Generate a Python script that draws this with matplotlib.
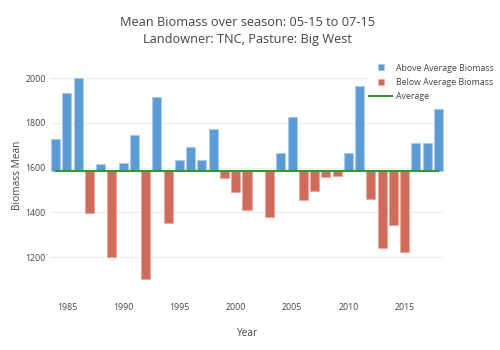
import numpy as np
import matplotlib
matplotlib.use('Agg')
import matplotlib.pyplot as plt
from matplotlib.lines import Line2D

plt.rcParams['font.family'] = ['Open Sans', 'DejaVu Sans']

#%% data
years = np.arange(1984, 2019)
biomass = np.array([1727, 1935, 2002, 1398, 1616, 1199, 1622, 1745, 1102, 1914,
                    1350, 1634, 1693, 1632, 1772, 1552, 1490, 1412, 1590, 1379,
                    1667, 1828, 1456, 1493, 1556, 1561, 1665, 1966, 1461, 1240,
                    1345, 1221, 1708, 1710, 1862])
average = biomass.mean()
yticks = [1200, 1400, 1600, 1800, 2000]
xticks = [1985, 1990, 1995, 2000, 2005, 2010, 2015]

title_txt = 'Mean Biomass over season: 05-15 to 07-15\nLandowner: TNC, Pasture: Big West'
labels = ['Above Average Biomass', 'Below Average Biomass', 'Average']

#%% plot
txt_col = '#444444'
blue, blue_edge = '#5b9bd3', '#a9cbea'
red, red_edge = '#cf6b5a', '#eba99c'
green = '#2e9a30'

fig = plt.figure(figsize=(5, 3.5), dpi=100)
ax = fig.add_axes([0.10, 0.171, 0.788, 0.638])

above = biomass >= average
ax.bar(years[above], biomass[above] - average, bottom=average, width=0.8,
       color=blue, edgecolor=blue_edge, linewidth=0.8, zorder=2)
ax.bar(years[~above], biomass[~above] - average, bottom=average, width=0.8,
       color=red, edgecolor=red_edge, linewidth=0.8, zorder=2)
ax.plot([years[0], years[-1]], [average, average], color=green, lw=1.5, zorder=3)

ax.set_xlim(1983.5, 2018.5)
ax.set_ylim(1052, 2050)
ax.set_xticks(xticks)
ax.set_yticks(yticks)
ax.tick_params(length=0, labelsize=6.3, colors=txt_col)
ax.tick_params(axis='x', pad=9)
ax.tick_params(axis='y', pad=3)
ax.grid(axis='y', color='#eeeeee', lw=1, zorder=0)
for s in ax.spines.values():
    s.set_visible(False)

ax.set_xlabel('Year', fontsize=7.3, color=txt_col, va='center')
ax.xaxis.set_label_coords(0.5, -0.193)
ax.set_ylabel('Biomass Mean', fontsize=7.3, color=txt_col, va='center')
ax.yaxis.set_label_coords(-0.082, 0.516)

fig.text(0.494, 0.91, title_txt, ha='center', va='center', fontsize=9.2,
         color=txt_col, linespacing=1.4)

# legend: small squares for bars, line for average
handles = [Line2D([], [], ls='none', marker='s', markersize=5, markerfacecolor=blue,
                  markeredgecolor=blue_edge, markeredgewidth=0.6),
           Line2D([], [], ls='none', marker='s', markersize=5, markerfacecolor=red,
                  markeredgecolor=red_edge, markeredgewidth=0.6),
           Line2D([], [], color=green, lw=1.5)]
leg = fig.legend(handles, labels, loc='upper left', bbox_to_anchor=(0.733, 0.826),
                 fontsize=6.3, frameon=True, handlelength=2.6,
                 labelspacing=0.6, borderpad=0.3, handletextpad=0.5, borderaxespad=0)
leg.get_frame().set_facecolor('white')
leg.get_frame().set_edgecolor('white')
leg.get_frame().set_boxstyle('square', pad=0)
for t in leg.get_texts():
    t.set_color(txt_col)

fig.savefig('out.png', dpi=100)
